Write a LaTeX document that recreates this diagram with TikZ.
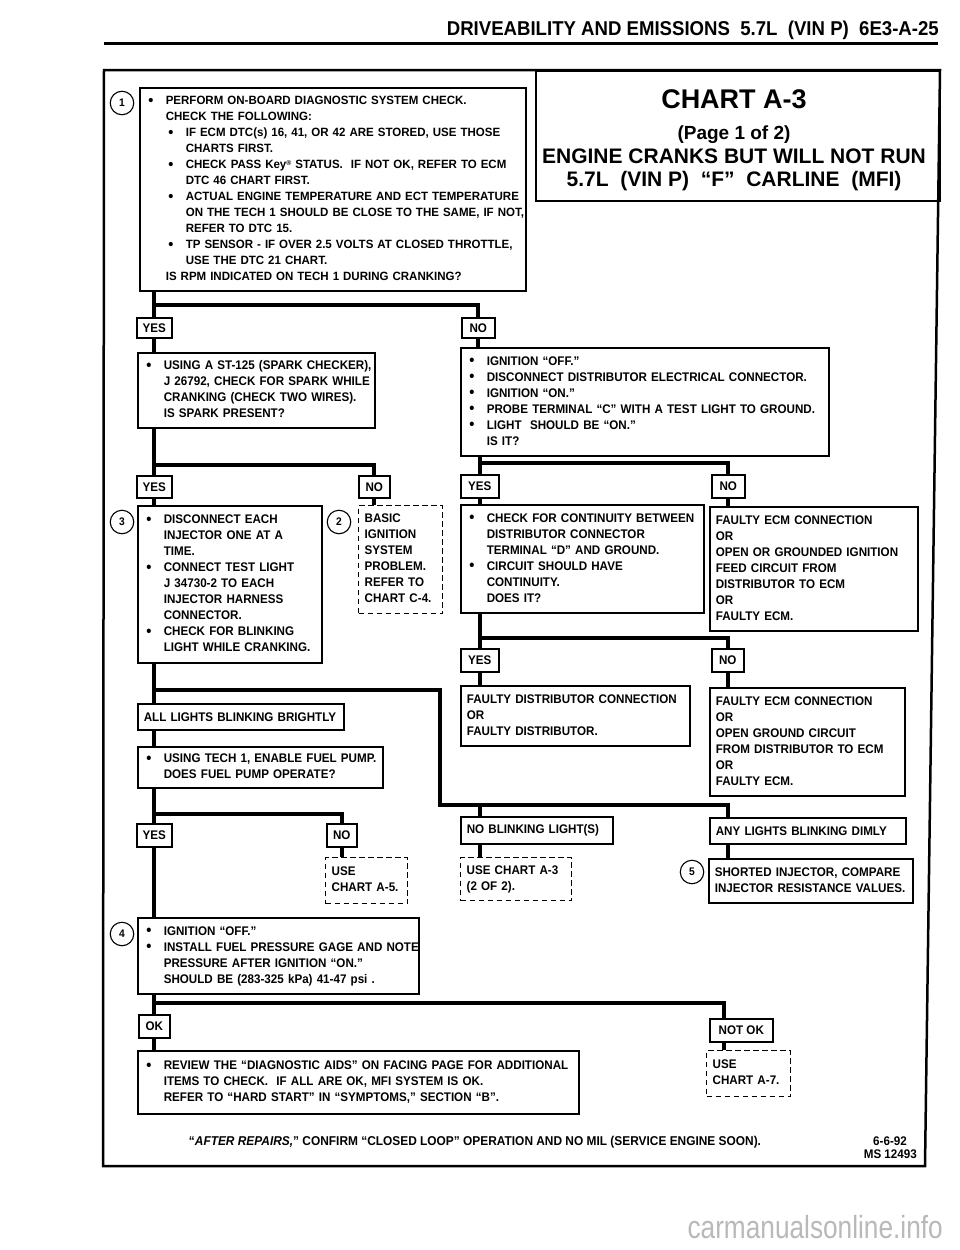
\documentclass[tikz,border=0pt]{standalone}
\usepackage{fontspec}
\usepackage{graphicx}
\setmainfont{Liberation Sans}[FakeStretch=0.93]
\newfontfamily\titlefont{Liberation Sans}
\newfontfamily\qfont{Liberation Sans}[FakeStretch=0.96]
\newfontfamily\wmfont{Liberation Sans}[FakeStretch=0.82]
\newcommand\bl{\makebox[20pt][l]{\hspace{2.5pt}\raisebox{-0.6pt}{\scalebox{1.25}{\textbullet}}}}
\newcommand\ind{\hspace*{20pt}}
\newcommand\regm{{\fontsize{7}{7}\selectfont\raisebox{3.5pt}{®}}}
\newcommand\tb[1]{\begin{tabular}{@{}l@{}}#1\end{tabular}}
\begin{document}
\begin{tikzpicture}[x=1pt,y=-1pt,
 txt/.style={font=\bfseries\fontsize{12.5}{16}\selectfont},
 box/.style={txt, draw, line width=1.6pt, fill=white, align=left, inner xsep=6pt, inner ysep=0pt, anchor=north west},
 dbox/.style={box, dash pattern=on 5.5pt off 3.5pt, line width=1.3pt},
 lab/.style={txt, draw, line width=1.6pt, fill=white, anchor=north west, inner sep=0pt, align=center},
 conn/.style={line width=4.2pt},
 num/.style={circle, draw, line width=1.1pt, fill=white, minimum size=23.5pt, inner sep=0pt, font=\bfseries\fontsize{11}{11}\selectfont},
]
\useasboundingbox (0,0) rectangle (960,1250);
\fill[white] (0,0) rectangle (960,1250);

% header
\node[anchor=base east, inner sep=0pt, font=\bfseries\fontsize{20}{20}\selectfont] (hdr) at (939,35) {DRIVEABILITY AND EMISSIONS \ 5.7L \ (VIN P) \ 6E3-A-25};
\draw[line width=3pt] (104,43) -- (938,43);

% frame
\draw[line width=2.5pt, line join=miter] (104,70) -- (940,70) -- (925,1166) -- (103,1166) -- cycle;
\node[draw, line width=2pt, anchor=north west, minimum width=404pt, minimum height=130pt, inner sep=0pt] (title) at (535,70) {};
\node[anchor=base, inner sep=0pt, font=\titlefont\bfseries\fontsize{27}{27}\selectfont] (t1) at (734,108) {CHART A-3};
\node[anchor=base, inner sep=0pt, font=\titlefont\bfseries\fontsize{19}{19}\selectfont] (t2) at (734,139) {(Page 1 of 2)};
\node[anchor=base, inner sep=0pt, font=\titlefont\bfseries\fontsize{21}{21}\selectfont] (t3) at (734,163) {ENGINE CRANKS BUT WILL NOT RUN};
\node[anchor=base, inner sep=0pt, font=\titlefont\bfseries\fontsize{21}{21}\selectfont] (t4) at (734,186) {5.7L \ (VIN P) \ “F” \ CARLINE \ (MFI)};

% junction coordinates
\coordinate (j1) at (0,305);
\coordinate (j2) at (0,465);
\coordinate (j3) at (0,463);
\coordinate (j4) at (0,638);
\coordinate (k1) at (440,690);
\coordinate (k2) at (440,805);
\coordinate (k3) at (728,805);
\coordinate (j6) at (0,814);
\coordinate (kx) at (724,1003);

% boxes
\node[box, minimum width=386pt, minimum height=203pt, text width=374pt, font=\qfont\bfseries\fontsize{12}{16}\selectfont] (q1) at (139,87) {\tb{%
\bl PERFORM ON-BOARD DIAGNOSTIC SYSTEM CHECK.\\
\ind CHECK THE FOLLOWING:\\
\ind\bl IF ECM DTC(s) 16, 41, OR 42 ARE STORED, USE THOSE\\
\ind\ind CHARTS FIRST.\\
\ind\bl CHECK PASS Key\regm\ STATUS. \ IF NOT OK, REFER TO ECM\\
\ind\ind DTC 46 CHART FIRST.\\
\ind\bl ACTUAL ENGINE TEMPERATURE AND ECT TEMPERATURE\\
\ind\ind ON THE TECH 1 SHOULD BE CLOSE TO THE SAME, IF NOT,\\
\ind\ind REFER TO DTC 15.\\
\ind\bl TP SENSOR - IF OVER 2.5 VOLTS AT CLOSED THROTTLE,\\
\ind\ind USE THE DTC 21 CHART.\\
\ind IS RPM INDICATED ON TECH 1 DURING CRANKING?}};
\node[num] (c1) at (122,103) {1};

\node[lab, minimum width=35pt, minimum height=20pt] (y1) at (136,317) {YES};
\node[lab, minimum width=33pt, minimum height=20pt] (n1) at (461,317) {NO};

\node[box, minimum width=237pt, minimum height=75pt, text width=225pt] (q2) at (137,352) {\tb{%
\bl USING A ST-125 (SPARK CHECKER),\\
\ind J 26792, CHECK FOR SPARK WHILE\\
\ind CRANKING (CHECK TWO WIRES).\\
\ind IS SPARK PRESENT?}};

\node[box, minimum width=368pt, minimum height=108pt, text width=356pt] (q3) at (460,347) {\tb{%
\bl IGNITION “OFF.”\\
\bl DISCONNECT DISTRIBUTOR ELECTRICAL CONNECTOR.\\
\bl IGNITION “ON.”\\
\bl PROBE TERMINAL “C” WITH A TEST LIGHT TO GROUND.\\
\bl LIGHT \ SHOULD BE “ON.”\\
\ind IS IT?}};

\node[lab, minimum width=35pt, minimum height=22pt] (y2) at (136,475) {YES};
\node[lab, minimum width=31pt, minimum height=22pt] (n2) at (358,475) {NO};
\node[lab, minimum width=38pt, minimum height=23pt] (y3) at (460,474) {YES};
\node[lab, minimum width=33pt, minimum height=23pt] (n3) at (711,474) {NO};

\node[box, minimum width=184pt, minimum height=157pt, text width=172pt] (q4) at (137,505) {\tb{%
\bl DISCONNECT EACH\\
\ind INJECTOR ONE AT A\\
\ind TIME.\\
\bl CONNECT TEST LIGHT\\
\ind J 34730-2 TO EACH\\
\ind INJECTOR HARNESS\\
\ind CONNECTOR.\\
\bl CHECK FOR BLINKING\\
\ind LIGHT WHILE CRANKING.}};
\node[num] (c3) at (122,522) {3};

\node[dbox, minimum width=84pt, minimum height=108pt, text width=72pt] (d2) at (358,505) {\tb{%
BASIC\\ IGNITION\\ SYSTEM\\ PROBLEM.\\ REFER TO\\ CHART C-4.}};
\node[num] (c2) at (339,522) {2};

\node[box, minimum width=243pt, minimum height=108pt, text width=231pt] (q5) at (460,504) {\tb{%
\bl CHECK FOR CONTINUITY BETWEEN\\
\ind DISTRIBUTOR CONNECTOR\\
\ind TERMINAL “D” AND GROUND.\\
\bl CIRCUIT SHOULD HAVE\\
\ind CONTINUITY.\\
\ind DOES IT?}};

\node[box, minimum width=208pt, minimum height=124pt, text width=196pt] (r1) at (709,506) {\tb{%
FAULTY ECM CONNECTION\\ OR\\ OPEN OR GROUNDED IGNITION\\ FEED CIRCUIT FROM\\ DISTRIBUTOR TO ECM\\ OR\\ FAULTY ECM.}};

\node[lab, minimum width=38pt, minimum height=23pt] (y4) at (460,648) {YES};
\node[lab, minimum width=32pt, minimum height=23pt] (n4) at (711,648) {NO};

\node[box, minimum width=229pt, minimum height=60pt, text width=217pt] (r2) at (460,685) {\tb{%
FAULTY DISTRIBUTOR CONNECTION\\ OR\\ FAULTY DISTRIBUTOR.}};
\node[box, minimum width=195pt, minimum height=108pt, text width=183pt] (r3) at (709,687) {\tb{%
FAULTY ECM CONNECTION\\ OR\\ OPEN GROUND CIRCUIT\\ FROM DISTRIBUTOR TO ECM\\ OR\\ FAULTY ECM.}};

\node[box, minimum width=206pt, minimum height=26pt, text width=194pt] (a1) at (137,703) {ALL LIGHTS BLINKING BRIGHTLY};
\node[box, minimum width=245pt, minimum height=41pt, text width=233pt] (q6) at (137,746) {\tb{%
\bl USING TECH 1, ENABLE FUEL PUMP.\\
\ind DOES FUEL PUMP OPERATE?}};

\node[lab, minimum width=35pt, minimum height=23pt] (y5) at (136,823) {YES};
\node[lab, minimum width=30pt, minimum height=23pt] (n5) at (326,823) {NO};
\node[dbox, minimum width=82pt, minimum height=46pt, text width=70pt] (d5) at (325,857) {\tb{USE\\ CHART A-5.}};

\node[box, minimum width=281pt, minimum height=76pt, text width=269pt] (q7) at (137,917) {\tb{%
\bl IGNITION “OFF.”\\
\bl INSTALL FUEL PRESSURE GAGE AND NOTE\\
\ind PRESSURE AFTER IGNITION “ON.”\\
\ind SHOULD BE (283-325 kPa) 41-47 psi .}};
\node[num] (c4) at (122,934) {4};

\node[box, minimum width=152pt, minimum height=27pt, text width=140pt] (a2) at (460,816) {NO BLINKING LIGHT(S)};
\node[box, minimum width=196pt, minimum height=26pt, text width=184pt] (a3) at (709,817) {ANY LIGHTS BLINKING DIMLY};
\node[dbox, minimum width=111pt, minimum height=43pt, text width=99pt] (d3) at (460,857) {\tb{USE CHART A-3\\ (2 OF 2).}};
\node[box, minimum width=204pt, minimum height=44pt, text width=192pt] (r4) at (708,858) {\tb{SHORTED INJECTOR, COMPARE\\ INJECTOR RESISTANCE VALUES.}};
\node[num] (c5) at (692,872) {5};

\node[lab, minimum width=31pt, minimum height=23pt] (ok) at (138,1014) {OK};
\node[lab, minimum width=63pt, minimum height=23pt] (nok) at (709,1018) {NOT OK};
\node[box, minimum width=441pt, minimum height=63pt, text width=429pt] (q8) at (137,1050) {\tb{%
\bl REVIEW THE “DIAGNOSTIC AIDS” ON FACING PAGE FOR ADDITIONAL\\
\ind ITEMS TO CHECK. \ IF ALL ARE OK, MFI SYSTEM IS OK.\\
\ind REFER TO “HARD START” IN “SYMPTOMS,” SECTION “B”.}};
\node[dbox, minimum width=84pt, minimum height=46pt, text width=72pt] (d7) at (706,1050) {\tb{USE\\ CHART A-7.}};

% connectors
\draw[conn] (q1.south -| y1) -- (y1.north);
\draw[conn] (y1 |- j1) -| (n1.north);
\draw[conn] (y1.south) -- (y1.south |- q2.north);
\draw[conn] (n1.south) -- (n1.south |- q3.north);
\draw[conn] (q2.south -| y2) -- (y2.north);
\draw[conn] (y2 |- j2) -| (n2.north);
\draw[conn] (y2.south) -- (y2.south |- q4.north);
\draw[conn] (n2.south) -- (n2.south |- d2.north);
\draw[conn] (q3.south -| y3) -- (y3.north);
\draw[conn] (y3 |- j3) -| (n3.north);
\draw[conn] (y3.south) -- (y3.south |- q5.north);
\draw[conn] (n3.south) -- (n3.south |- r1.north);
\draw[conn] (q5.south -| y4) -- (y4.north);
\draw[conn] (y4 |- j4) -| (n4.north);
\draw[conn] (y4.south) -- (y4.south |- r2.north);
\draw[conn] (n4.south) -- (n4.south |- r3.north);
\draw[conn] (q4.south -| y2) -- (a1.north -| y2);
\draw[conn] (a1.south -| y2) -- (q6.north -| y2);
\draw[conn] (y2 |- k1) -- (k1) -- (k2) -- (k3) -- (k3 |- a3.north);
\draw[conn] (y3 |- k2) -- (a2.north -| y3);
\draw[conn] (a2.south -| y3) -- (d3.north -| y3);
\draw[conn] (k3 |- a3.south) -- (k3 |- r4.north);
\draw[conn] (q6.south -| y5) -- (y5.north);
\draw[conn] (y5 |- j6) -| (n5.north);
\draw[conn] (y5.south) -- (y5.south |- q7.north);
\draw[conn] (n5.south) -- (n5.south |- d5.north);
\draw[conn] (q7.south -| ok) -- (ok.north);
\draw[conn] (ok |- kx) -- (kx) -- (kx |- nok.north);
\draw[conn] (ok.south) -- (ok.south |- q8.north);
\draw[conn] (kx |- nok.south) -- (kx |- d7.north);

% footer
\node[anchor=base, inner sep=0pt, font=\bfseries\fontsize{12.8}{14}\selectfont] (foot) at (475,1145) {“\textit{AFTER REPAIRS,}” CONFIRM “CLOSED LOOP” OPERATION AND NO MIL (SERVICE ENGINE SOON).};
\node[anchor=base east, inner sep=0pt, txt] (date) at (907,1145) {6-6-92};
\node[anchor=base east, inner sep=0pt, txt] (ms) at (917,1158) {MS 12493};

% watermark
\node[anchor=base east, inner sep=0pt, text=gray!55, font=\wmfont\fontsize{32}{32}\selectfont] (wm) at (943,1238) {carmanualsonline.info};
\end{tikzpicture}
\end{document}
